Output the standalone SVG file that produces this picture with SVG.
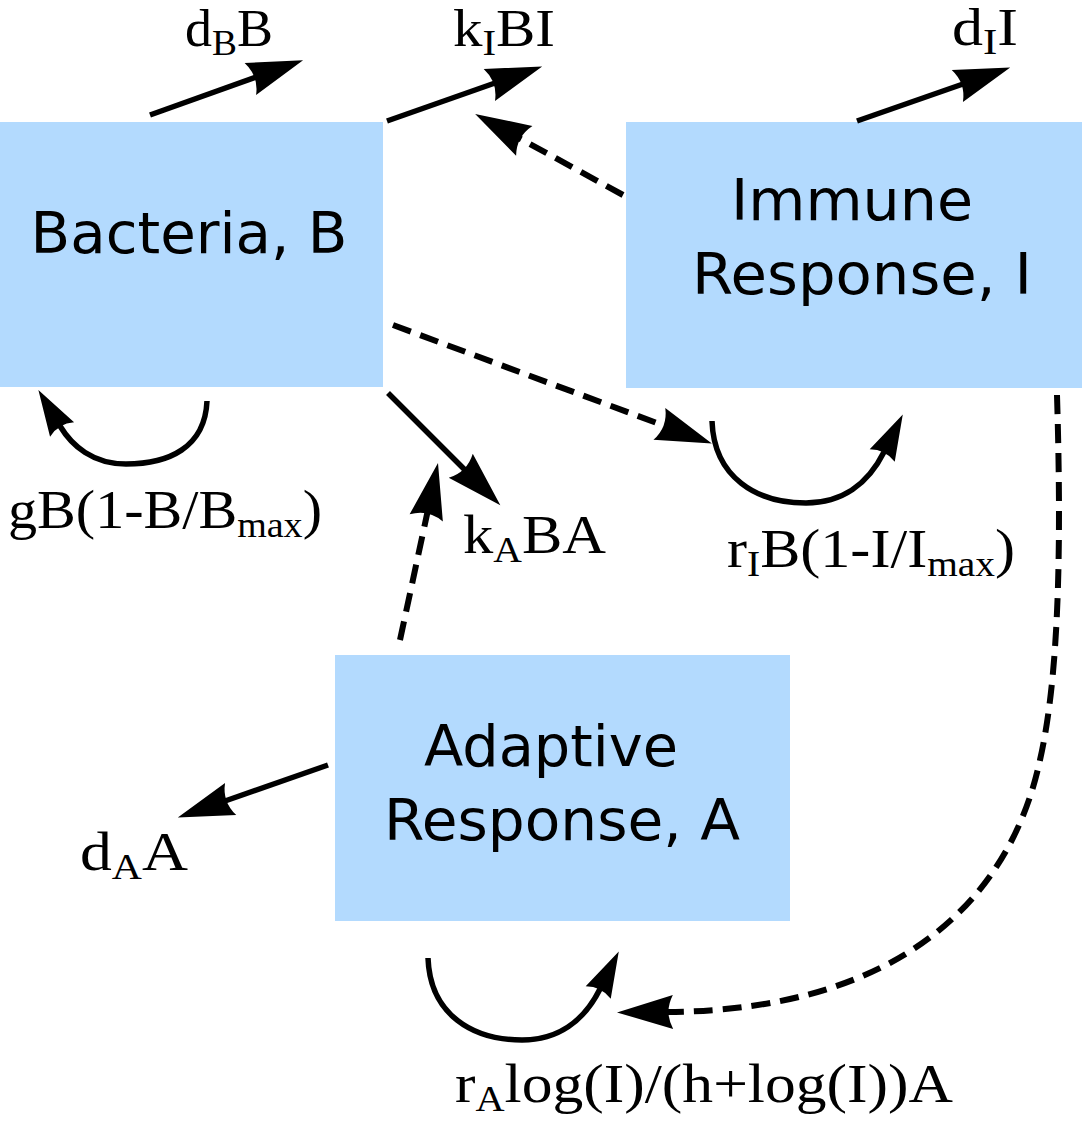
<svg xmlns="http://www.w3.org/2000/svg" width="1082" height="1122" viewBox="0 0 1082 1122">
<style>
.box{fill:#b3dafe;stroke:none}
.node{font-family:"DejaVu Sans","Liberation Sans",sans-serif;font-size:57px;fill:#000;text-anchor:middle}
.lbl{font-family:"Liberation Serif","DejaVu Serif",serif;font-size:55px;fill:#000}
.top{font-size:52px}
.sub{font-size:36px}
.solid{fill:none;stroke:#000;stroke-width:5.5}
.dash{fill:none;stroke:#000;stroke-width:6;stroke-dasharray:19,10}
.head{marker-end:url(#ah)}
.heads{marker-end:url(#ahs)}
</style>
<defs>
<marker id="ah" markerUnits="userSpaceOnUse" orient="auto" markerWidth="120" markerHeight="120" refX="0" refY="0" overflow="visible"><path d="M50,0 L-6,-17 Q3,0 -6,17 Z" fill="#000" stroke="none"/></marker>
<marker id="ahs" markerUnits="userSpaceOnUse" orient="auto" markerWidth="120" markerHeight="120" refX="0" refY="0" overflow="visible"><path d="M42,0 L-4,-14 Q3,0 -4,14 Z" fill="#000" stroke="none"/></marker>
</defs>
<rect width="1082" height="1122" fill="#fff"/>
<g id="bacteria">
<rect class="box" x="0" y="122" width="383" height="265"/>
<text class="node" x="189" y="253" textLength="317" lengthAdjust="spacingAndGlyphs">Bacteria, B</text>
</g>
<g id="immune">
<rect class="box" x="626" y="122" width="456" height="266"/>
<text class="node" x="852" y="220" textLength="242" lengthAdjust="spacingAndGlyphs">Immune</text>
<text class="node" x="862" y="294" textLength="340" lengthAdjust="spacingAndGlyphs">Response, I</text>
</g>
<g id="adaptive">
<rect class="box" x="335" y="655" width="455" height="266"/>
<text class="node" x="551" y="766" textLength="254" lengthAdjust="spacingAndGlyphs">Adaptive</text>
<text class="node" x="562" y="840" textLength="356" lengthAdjust="spacingAndGlyphs">Response, A</text>
</g>
<g id="connectors">
<path class="solid head" d="M150,115 L256,77"/>
<path class="solid head" d="M387,121 L495,83"/>
<path class="solid head" d="M857,121 L963,84"/>
<path class="dash head" d="M623,195 L519,138"/>
<path class="solid head" d="M388,393 L465,470"/>
<path class="dash head" d="M400,640 L427.5,512"/>
<path class="dash head" d="M393,325 L665,426"/>
<path class="solid head" d="M328,765 L225,801"/>
<path class="dash head" d="M1057,395 C1062,560 1058,680 1040,760 C1010,900 900,1010 667,1012"/>
<path class="solid heads" d="M207,401 C205,448 168,464 126,464 C93,464 72,446 60,426"/>
<path class="solid heads" d="M712,421 C714,478 757,503 806,503 C842,503 868,484 884,452"/>
<path class="solid heads" d="M428,958 C430,1015 473,1040 522,1040 C558,1040 584,1021 600,989"/>
</g>
<g id="labels">
<text class="lbl top" x="185" y="46" textLength="88" lengthAdjust="spacingAndGlyphs">d<tspan class="sub" dy="9">B</tspan><tspan dy="-9">B</tspan></text>
<text class="lbl top" x="453" y="46" textLength="102" lengthAdjust="spacingAndGlyphs">k<tspan class="sub" dy="9">I</tspan><tspan dy="-9">BI</tspan></text>
<text class="lbl top" x="952" y="45" textLength="66" lengthAdjust="spacingAndGlyphs">d<tspan class="sub" dy="9">I</tspan><tspan dy="-9">I</tspan></text>
<text class="lbl" x="8" y="528" textLength="314" lengthAdjust="spacingAndGlyphs">gB(1-B/B<tspan class="sub" dy="9">max</tspan><tspan dy="-9">)</tspan></text>
<text class="lbl" x="463" y="553" textLength="143" lengthAdjust="spacingAndGlyphs">k<tspan class="sub" dy="9">A</tspan><tspan dy="-9">BA</tspan></text>
<text class="lbl" x="727" y="567" textLength="288" lengthAdjust="spacingAndGlyphs">r<tspan class="sub" dy="9">I</tspan><tspan dy="-9">B(1-I/I</tspan><tspan class="sub" dy="9">max</tspan><tspan dy="-9">)</tspan></text>
<text class="lbl" x="80" y="870" textLength="108" lengthAdjust="spacingAndGlyphs">d<tspan class="sub" dy="9">A</tspan><tspan dy="-9">A</tspan></text>
<text class="lbl" x="455" y="1102" textLength="498" lengthAdjust="spacingAndGlyphs">r<tspan class="sub" dy="9">A</tspan><tspan dy="-9">log(I)/(h+log(I))A</tspan></text>
</g>
</svg>
